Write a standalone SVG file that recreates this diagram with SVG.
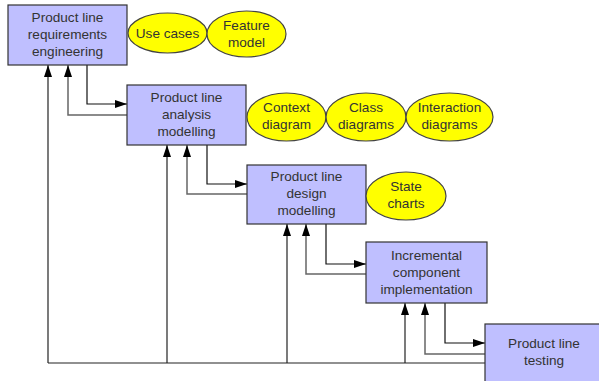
<svg xmlns="http://www.w3.org/2000/svg" width="599" height="381" viewBox="0 0 599 381">
<style>
.box{fill:#bfbfff;stroke:#333;stroke-width:1.2}
.ell{fill:#ffff00;stroke:#444;stroke-width:1.2}
text{font-family:"Liberation Sans",Arial,sans-serif;font-size:13.6px;fill:#333;text-anchor:middle}
.fwd{fill:none;stroke:#111;stroke-width:1.2}
.ret{fill:none;stroke:#666;stroke-width:1.5}
.fb{fill:none;stroke:#222;stroke-width:1.2}
</style>
<defs>
<marker id="ah" markerWidth="12" markerHeight="8" refX="12" refY="4" orient="auto" markerUnits="userSpaceOnUse">
<path d="M0,0 L12,4 L0,8 z" fill="#000"/>
</marker>
</defs>
<rect width="599" height="381" fill="#fff"/>
<g id="connectors">
<polyline class="fwd" points="87,65 87,104 127,104" marker-end="url(#ah)"/>
<polyline class="ret" points="127,115 68,115 68,65" marker-end="url(#ah)"/>
<polyline class="fwd" points="207,145 207,184 247,184" marker-end="url(#ah)"/>
<polyline class="ret" points="247,194 187,194 187,145" marker-end="url(#ah)"/>
<polyline class="fwd" points="326,224 326,264 366,264" marker-end="url(#ah)"/>
<polyline class="ret" points="366,274 306,274 306,224" marker-end="url(#ah)"/>
<polyline class="fwd" points="445,303 445,343 485,343" marker-end="url(#ah)"/>
<polyline class="ret" points="485,354 425,354 425,303" marker-end="url(#ah)"/>
<polyline class="fb" points="485,363 48,363"/>
<line class="fb" x1="48" y1="363" x2="48" y2="65" marker-end="url(#ah)"/>
<line class="fb" x1="167" y1="363" x2="167" y2="145" marker-end="url(#ah)"/>
<line class="fb" x1="287" y1="363" x2="287" y2="224" marker-end="url(#ah)"/>
<line class="fb" x1="405" y1="363" x2="405" y2="303" marker-end="url(#ah)"/>
</g>
<g id="req">
<rect class="box" x="8" y="5" width="119" height="60"/>
<text x="67.5" y="22">Product line</text>
<text x="67.5" y="39">requirements</text>
<text x="67.5" y="56">engineering</text>
</g>
<g id="usecases">
<ellipse class="ell" cx="167.5" cy="33" rx="39.5" ry="20"/>
<text x="167.5" y="38">Use cases</text>
</g>
<g id="feature">
<ellipse class="ell" cx="246.5" cy="34" rx="39.5" ry="23"/>
<text x="246.5" y="30">Feature</text>
<text x="246.5" y="47">model</text>
</g>
<g id="analysis">
<rect class="box" x="127" y="85" width="119" height="60"/>
<text x="186.5" y="102">Product line</text>
<text x="186.5" y="119">analysis</text>
<text x="186.5" y="136">modelling</text>
</g>
<g id="context">
<ellipse class="ell" cx="286.5" cy="117" rx="39.5" ry="24"/>
<text x="286.5" y="112">Context</text>
<text x="286.5" y="129">diagram</text>
</g>
<g id="class">
<ellipse class="ell" cx="366" cy="117" rx="40" ry="24"/>
<text x="366" y="112">Class</text>
<text x="366" y="129">diagrams</text>
</g>
<g id="interaction">
<ellipse class="ell" cx="449.5" cy="117" rx="43.5" ry="24"/>
<text x="449.5" y="112">Interaction</text>
<text x="449.5" y="129">diagrams</text>
</g>
<g id="design">
<rect class="box" x="247" y="165" width="119" height="59"/>
<text x="306.5" y="181">Product line</text>
<text x="306.5" y="198">design</text>
<text x="306.5" y="215">modelling</text>
</g>
<g id="state">
<ellipse class="ell" cx="406" cy="196" rx="40" ry="24"/>
<text x="406" y="191">State</text>
<text x="406" y="208">charts</text>
</g>
<g id="impl">
<rect class="box" x="366" y="242" width="121" height="61"/>
<text x="426.5" y="260">Incremental</text>
<text x="426.5" y="277">component</text>
<text x="426.5" y="294">implementation</text>
</g>
<g id="testing">
<rect class="box" x="485" y="324" width="120" height="62"/>
<text x="544" y="348">Product line</text>
<text x="544" y="365">testing</text>
</g>
</svg>
